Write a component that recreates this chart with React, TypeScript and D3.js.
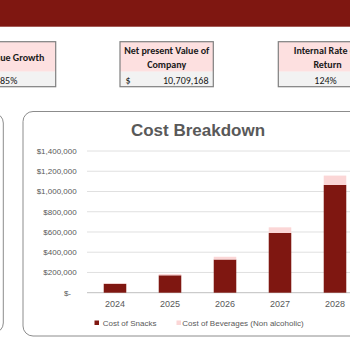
import React from "react";
import * as d3 from "d3";

const years = ["2024", "2025", "2026", "2027", "2028"];
const snacks = [88000, 172000, 328000, 590000, 1065000];
const beverages = [6000, 12000, 27000, 56000, 92000];
const yTicks = [0, 200000, 400000, 600000, 800000, 1000000, 1200000, 1400000];
const seriesNames = ["Cost of Snacks", "Cost of Beverages (Non alcoholic)"];

const DARK = "#7f1711";
const PINK = "#fbd6d6";
const GREY_TXT = "#595959";
const BOXFONT = "Carlito, Calibri, Lato, 'Noto Sans', sans-serif";
const AX = "'Liberation Sans', Arial, sans-serif";

function fmt(v: number) {
  return v === 0 ? "$-" : "$" + d3.format(",")(v);
}

export default function App() {
  const x = d3.scaleBand<string>().domain(years).range([87.5, 362.5]).paddingInner(0.59).paddingOuter(0.295);
  const y = d3.scaleLinear().domain([0, 1400000]).range([292.7, 151]);

  const boxes = [
    { x: -38, w: 93.7, lines: ["Revenue Growth"], anchor: "end", tx: 44.3, value: "85%", vAnchor: "end", vx: 17.3 },
  ];

  return (
    <svg width={350} height={350} style={{ position: "absolute", left: 0, top: 0, background: "#fff" }}>
      <rect x={0} y={0} width={350} height={26.7} fill={DARK} />

      {/* KPI boxes */}
      {/* left box */}
      <g>
        <rect x={-38} y={41.7} width={93.7} height={30} fill="#fde0e0" />
        <rect x={-38} y={71.7} width={93.7} height={15} fill="#f2f2f2" />
        <rect x={-38} y={41.7} width={93.7} height={45} fill="none" stroke="#7f7f7f" strokeWidth={1.2} />
        <text x={44.3} y={60.5} textAnchor="end" fontFamily={BOXFONT} fontWeight="bold" fontSize={10} fill="#1a1a1a">Revenue Growth</text>
        <text x={17.3} y={83.5} textAnchor="end" fontFamily={BOXFONT} fontSize={10} fill="#1a1a1a">85%</text>
      </g>
      {/* middle box */}
      <g>
        <rect x={120} y={41.7} width={93.3} height={30} fill="#fde0e0" />
        <rect x={120} y={71.7} width={93.3} height={15} fill="#f2f2f2" />
        <rect x={120} y={41.7} width={93.3} height={45} fill="none" stroke="#7f7f7f" strokeWidth={1.2} />
        <text x={166.7} y={54} textAnchor="middle" fontFamily={BOXFONT} fontWeight="bold" fontSize={10} fill="#1a1a1a">Net present Value of</text>
        <text x={166.7} y={67.5} textAnchor="middle" fontFamily={BOXFONT} fontWeight="bold" fontSize={10} fill="#1a1a1a">Company</text>
        <text x={125.5} y={83.5} fontFamily={BOXFONT} fontSize={10} fill="#1a1a1a">$</text>
        <text x={208.5} y={83.5} textAnchor="end" fontFamily={BOXFONT} fontSize={10} fill="#1a1a1a">10,709,168</text>
      </g>
      {/* right box */}
      <g>
        <rect x={278.3} y={41.7} width={95} height={30} fill="#fde0e0" />
        <rect x={278.3} y={71.7} width={95} height={15} fill="#f2f2f2" />
        <rect x={278.3} y={41.7} width={95} height={45} fill="none" stroke="#7f7f7f" strokeWidth={1.2} />
        <text x={326} y={54} textAnchor="middle" fontFamily={BOXFONT} fontWeight="bold" fontSize={10} fill="#1a1a1a">Internal Rate of</text>
        <text x={327.5} y={67.5} textAnchor="middle" fontFamily={BOXFONT} fontWeight="bold" fontSize={10} fill="#1a1a1a">Return</text>
        <text x={325.5} y={83.5} textAnchor="middle" fontFamily={BOXFONT} fontSize={10} fill="#1a1a1a">124%</text>
      </g>

      {/* panels */}
      <rect x={-100} y={113} width={103.3} height={220} rx={10} fill="#fff" stroke="#8c8c8c" strokeWidth={1} />
      <rect x={23} y={111.5} width={360} height={224.5} rx={10} fill="#fff" stroke="#8c8c8c" strokeWidth={1} />

      <text x={198} y={136} textAnchor="middle" fontFamily={AX} fontWeight="bold" fontSize={17} fill={GREY_TXT}>Cost Breakdown</text>

      {/* grid */}
      {yTicks.map((t) => (
        <line key={t} x1={87} x2={360} y1={y(t)} y2={y(t)} stroke={t === 0 ? "#bfbfbf" : "#e0e0e0"} strokeWidth={1} />
      ))}
      {yTicks.map((t) => (
        <text key={"l" + t} x={t === 0 ? 71 : 76.7} y={y(t)} dy="0.35em" textAnchor="end" fontFamily={AX} fontSize={8} fill={GREY_TXT}>{fmt(t)}</text>
      ))}

      {/* bars */}
      {years.map((yr, i) => {
        const bx = x(yr)!;
        const bw = x.bandwidth();
        const s0 = y(0), s1 = y(snacks[i]), s2 = y(snacks[i] + beverages[i]);
        return (
          <g key={yr}>
            <rect x={bx} y={s1} width={bw} height={s0 - s1} fill={DARK} />
            <rect x={bx} y={s2} width={bw} height={s1 - s2} fill={PINK} />
          </g>
        );
      })}

      {years.map((yr) => (
        <text key={"x" + yr} x={x(yr)! + x.bandwidth() / 2} y={304} dy="0.35em" textAnchor="middle" fontFamily={AX} fontSize={9} fill={GREY_TXT}>{yr}</text>
      ))}

      {/* legend */}
      <rect x={94.5} y={320.5} width={4.5} height={4.5} fill={DARK} />
      <text x={102.7} y={322.7} dy="0.35em" fontFamily={AX} fontSize={8} fill={GREY_TXT}>{seriesNames[0]}</text>
      <rect x={176.5} y={320.5} width={4.5} height={4.5} fill={PINK} />
      <text x={182.3} y={322.7} dy="0.35em" fontFamily={AX} fontSize={8} fill={GREY_TXT}>{seriesNames[1]}</text>
    </svg>
  );
}
